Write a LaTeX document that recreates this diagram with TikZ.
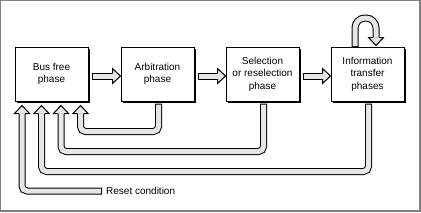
\documentclass[tikz,border=0pt]{standalone}
\usepackage{fontspec}
\setmainfont{Liberation Sans}
\usetikzlibrary{calc,positioning,shadows}
\definecolor{arrfill}{RGB}{230,230,230}
\definecolor{framegray}{RGB}{128,128,128}
\newcommand{\fatarrow}[4][]{%
  \draw[fatout,#1] #2;
  \draw[fatin,#1] #2;
  \pic[rotate=#4] at #3 {fathead};
}

\begin{document}
\begin{tikzpicture}[x=1pt,y=-1pt,
  phase/.style={draw,line width=1pt,fill=white,minimum width=73pt,minimum height=54pt,
    align=center,font=\fontsize{10}{12.5}\selectfont,
    drop shadow={shadow xshift=2pt,shadow yshift=-2pt,opacity=1,fill=black}},
  fatout/.style={line width=7pt,black,rounded corners=5pt},
  fatin/.style={line width=5pt,arrfill,rounded corners=5pt,shorten <=1pt},
  fathead/.pic={
    \fill[arrfill] (0pt,-7.5pt) -- (8pt,0pt) -- (0pt,7.5pt) -- cycle;
    \draw[line width=1pt] (0pt,3pt) -- (0pt,7.5pt) -- (8pt,0pt) -- (0pt,-7.5pt) -- (0pt,-3pt);
  }]
  % frame
  \useasboundingbox (0,0) rectangle (421,212);
  \fill[framegray] (0,0) rectangle (421,212);
  \fill[white] (1,1) rectangle (419,210);

  \node[phase] (busfree) at (51.5,74) {Bus free\\phase};
  \node[phase,right=32pt of busfree] (arbit) {Arbitration\\phase};
  \node[phase,right=31pt of arbit] (select) {Selection\\or reselection\\phase};
  \node[phase,right=31pt of select] (info) {Information\\transfer\\phases};
  \node[anchor=west,inner sep=4pt,font=\fontsize{10}{12}\selectfont] (reset) at (102,191) {Reset condition};

  % forward arrows
  \coordinate (h1) at ($(arbit.west)+(-8,2)$);
  \coordinate (h2) at ($(select.west)+(-8,2)$);
  \coordinate (h3) at ($(info.west)+(-8,2)$);
  \fatarrow{($(busfree.east)+(3,2)$) -- (h1)}{(h1)}{0}
  \fatarrow{($(arbit.east)+(3,2)$) -- (h2)}{(h2)}{0}
  \fatarrow{($(select.east)+(3,2)$) -- (h3)}{(h3)}{0}

  % loop on information transfer
  \coordinate (h4) at ($(info.north)+(8.5,-9)$);
  \fatarrow[rounded corners=10pt]{($(info.north)+(-12.5,0.5)$) -- ++(0,-29) -- ++(21,0) -- (h4)}{(h4)}{-90}

  % back to bus free
  \coordinate (h5) at ($(busfree.south)+(29,12)$);
  \coordinate (h6) at ($(busfree.south)+(9.5,12)$);
  \coordinate (h7) at ($(busfree.south)+(-10,12)$);
  \coordinate (h8) at ($(busfree.south)+(-29.5,12)$);
  \fatarrow{($(arbit.south)+(1,2)$) |- ($(busfree.south)+(29,30)$) -- (h5)}{(h5)}{90}
  \fatarrow{($(select.south)+(1,2)$) |- ($(busfree.south)+(9.5,50)$) -- (h6)}{(h6)}{90}
  \fatarrow{($(info.south)+(1,2)$) |- ($(busfree.south)+(-10,70)$) -- (h7)}{(h7)}{90}
  \fatarrow{(reset.west) -| (h8)}{(h8)}{90}
\end{tikzpicture}
\end{document}
